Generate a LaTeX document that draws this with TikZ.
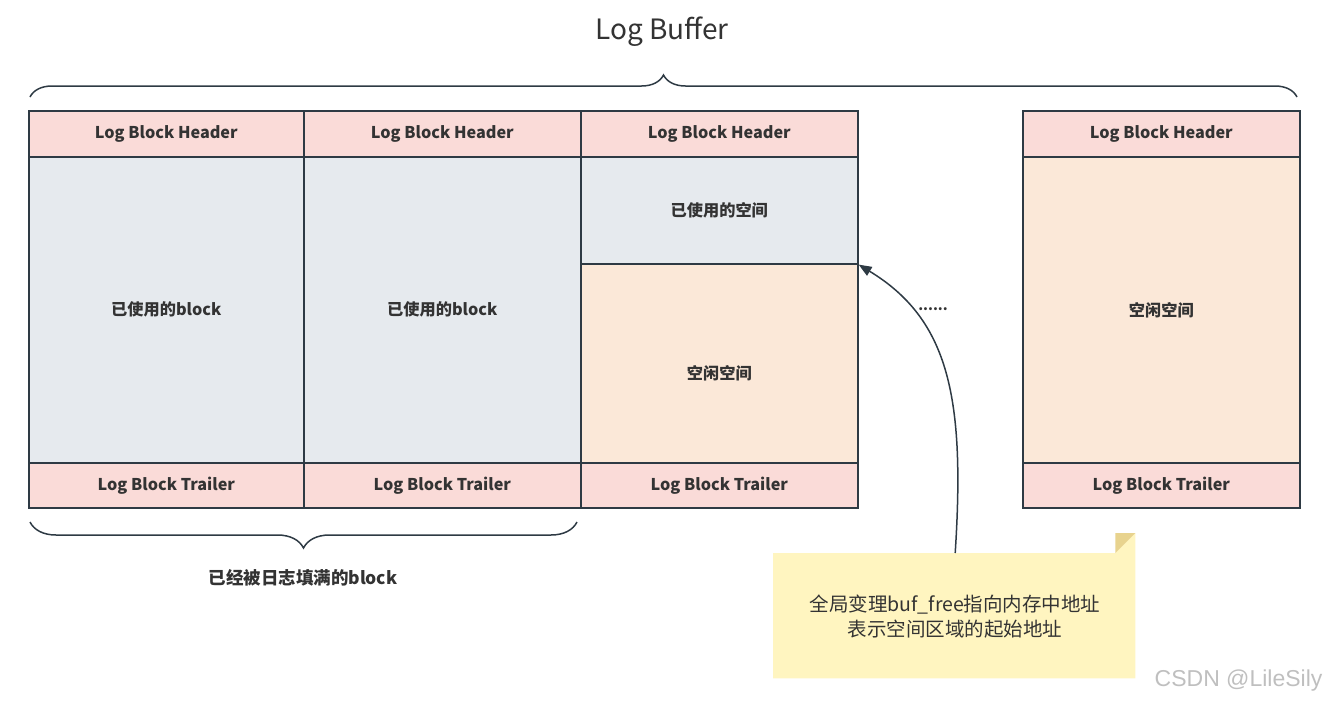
\documentclass[tikz,border=0pt]{standalone}
\usepackage{fontspec}
\setmainfont{Noto Sans CJK SC}
\newfontfamily\wmfont{Liberation Sans}
\usetikzlibrary{arrows.meta,decorations.pathreplacing}
\definecolor{hdr}{HTML}{FADBD8}
\definecolor{usedc}{HTML}{E6EAEE}
\definecolor{freec}{HTML}{FBE8D8}
\definecolor{bord}{HTML}{2E3A44}
\definecolor{txt}{HTML}{333333}
\definecolor{notec}{HTML}{FFF5C0}
\definecolor{foldc}{HTML}{E8D38E}
\begin{document}
\begin{tikzpicture}[x=1pt,y=-1pt,
  cell/.style={draw=bord,line width=1.6pt,anchor=north west,inner sep=0pt,
    minimum width=#1,text=txt,font=\bfseries\fontsize{16.2}{19}\selectfont},
  hcell/.style={cell=#1,fill=hdr,minimum height=46pt},
  ucell/.style={cell=#1,fill=usedc},
  fcell/.style={cell=#1,fill=freec},
  bracestyle/.style={draw=bord,line width=1.5pt,decorate},
]
\useasboundingbox (0,0) rectangle (1331,702);
% title
\node[text=txt,font=\fontsize{28}{32}\selectfont] (title) at (662,32) {Log Buffer};
\draw[bracestyle,decoration={brace,amplitude=22pt}] (30,97) coordinate (tb1) -- (1297,97) coordinate (tb2);
% block 1
\node[hcell=275pt] (h1) at (28,110) {Log Block Header};
\node[ucell=275pt,minimum height=306pt] (u1) at (28,156) {已使用的block};
\node[hcell=275pt,minimum height=45pt] (t1) at (28,462) {Log Block Trailer};
% block 2
\node[hcell=277pt] (h2) at (303,110) {Log Block Header};
\node[ucell=277pt,minimum height=306pt] (u2) at (303,156) {已使用的block};
\node[hcell=277pt,minimum height=45pt] (t2) at (303,462) {Log Block Trailer};
% block 3
\node[hcell=277pt] (h3) at (580,110) {Log Block Header};
\node[ucell=277pt,minimum height=107pt] (u3) at (580,156) {已使用的空间};
\node[fcell=277pt,minimum height=199pt] (f3) at (580,263) {};
\node[text=txt,font=\bfseries\fontsize{16.2}{19}\selectfont] (f3t) at ([yshift=-10pt]f3.center) {空闲空间};
\node[hcell=277pt,minimum height=45pt] (t3) at (580,462) {Log Block Trailer};
% block 4
\node[hcell=277pt] (h4) at (1022,110) {Log Block Header};
\node[fcell=277pt,minimum height=306pt] (f4) at (1022,156) {空闲空间};
\node[hcell=277pt,minimum height=45pt] (t4) at (1022,462) {Log Block Trailer};
% dots
\node[text=txt,font=\bfseries\fontsize{14}{16}\selectfont] (dots) at (933,309) {......};
% bottom brace
\draw[bracestyle,decoration={brace,amplitude=26pt}] (577,522) coordinate (bb1) -- (30,522) coordinate (bb2);
\node[text=txt,font=\bfseries\fontsize{17.5}{21}\selectfont] (full) at (303,578) {已经被日志填满的block};
% note
\node[minimum width=362pt,minimum height=125pt,inner sep=0pt,anchor=north west] (n) at (773,553) {};
\fill[notec] (n.north west) -- ([xshift=-20pt]n.north east) -- ([yshift=20pt]n.north east) -- (n.south east) -- (n.south west) -- cycle;
\fill[foldc] ([xshift=-20pt]n.north east) -- ([yshift=20pt]n.north east) -- ([xshift=-20pt,yshift=20pt]n.north east) -- cycle;
\node[text=txt,font=\fontsize{19.5}{25}\selectfont,align=center] (ntext) at (955,617) {全局变理buf\_free指向内存中地址\\表示空间区域的起始地址};
% arrow
\draw[draw=bord,line width=1.5pt,-{Triangle[length=13pt,width=10pt]}] ([xshift=1pt]n.north) .. controls (965,400) and (950,320) .. (u3.south east);
% watermark
\node[text=black!25,font=\wmfont\fontsize{23}{27}\selectfont,anchor=east] (wm) at (1326,681) {CSDN @LileSily};
\end{tikzpicture}
\end{document}
